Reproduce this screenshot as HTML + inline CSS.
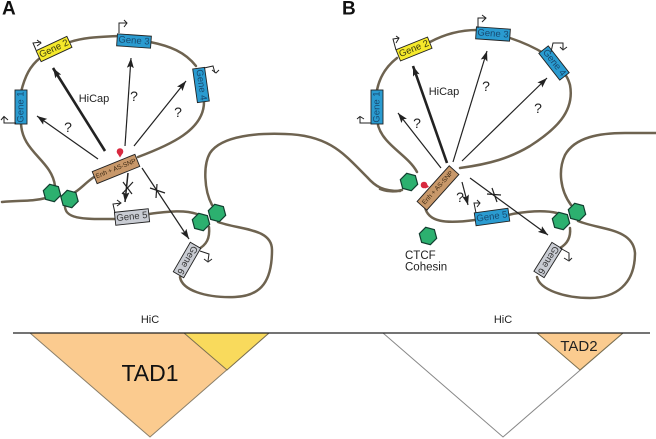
<!DOCTYPE html>
<html><head><meta charset="utf-8"><style>
html,body{margin:0;padding:0;background:#fff}
svg{display:block}
text{font-family:"Liberation Sans",sans-serif}
.c{fill:none;stroke:#6e6350;stroke-width:2.5;stroke-linecap:round}
.a{stroke:#222;stroke-width:1.2;fill:none;marker-end:url(#ah)}
.at{stroke:#222;stroke-width:2.6;fill:none;marker-end:url(#ahs)}
.p{fill:none;stroke:#222;stroke-width:1}
.x{fill:none;stroke:#222;stroke-width:1.2}
.q{font-size:14px;fill:#222;text-anchor:middle}
.g{font-size:9.5px;text-anchor:middle;dominant-baseline:central}
.b{stroke:#222;stroke-width:.9}
.h{fill:#2cb06f;stroke:#123f30;stroke-width:1.2}
</style></head><body>
<svg width="656" height="439" viewBox="0 0 656 439" xmlns="http://www.w3.org/2000/svg">
<defs>
<marker id="ah" markerUnits="userSpaceOnUse" markerWidth="11" markerHeight="8" refX="10" refY="4" orient="auto"><path d="M0,0.5L10,4L0,7.5L2,4Z" fill="#222"/></marker>
<marker id="ahs" markerUnits="userSpaceOnUse" markerWidth="11" markerHeight="8" refX="10" refY="4" orient="auto"><path d="M0,0.5L10,4L0,7.5L2,4Z" fill="#222"/></marker>
</defs>

<!-- Panel letters -->
<text x="2" y="14.500" font-size="19" font-weight="bold" fill="#111">A</text>
<text x="342" y="14.500" font-size="19" font-weight="bold" fill="#111">B</text>

<!-- Panel A curves -->
<path class="c" d="M2,202 C20,200 30,202 46,198"/>
<path class="c" d="M55,186 C52,160 21,152 21,122"/>
<path class="c" d="M21,92 C25,76 30,66 40,58"/>
<path class="c" d="M70,42 C85,37 100,37 118,36"/>
<path class="c" d="M150,42 C170,46 185,52 196,66"/>
<path class="c" d="M204,102 C204,130 170,145 138,157"/>
<path class="c" d="M94,177 C85,183 80,190 72,194"/>
<path class="c" d="M65,205 C64,220 85,219 116,219"/>
<path class="c" d="M149,214 C170,211 185,210 197,214"/>
<path class="c" d="M212,205 C204,190 203,165 210,153 C222,135 260,133 285,134 C330,135 345,155 367,177 C375,186 382,191 400,191"/>
<path class="c" d="M209,227 C210,238 207,245 197,250"/>
<path class="c" d="M180,277 C182,290 205,298 235,297 C262,296 272,280 272,250 C272,228 240,230 218,222"/>

<!-- Panel A boxes -->
<g transform="translate(21,107) rotate(-90)"><rect class="b" x="-17" y="-6" width="34" height="12" fill="#2a9bd0"/><text class="g" fill="#17496f">Gene 1</text></g>
<g transform="translate(54,49) rotate(-25)"><rect class="b" x="-17" y="-6" width="34" height="12" fill="#f5e92b"/><text class="g" fill="#3a3a10">Gene 2</text></g>
<g transform="translate(134,41) rotate(4)"><rect class="b" x="-17" y="-6" width="34" height="12" fill="#2a9bd0"/><text class="g" fill="#17496f">Gene 3</text></g>
<g transform="translate(201,85) rotate(82)"><rect class="b" x="-17" y="-6" width="34" height="12" fill="#2a9bd0"/><text class="g" fill="#17496f">Gene 4</text></g>
<g transform="translate(132,217) rotate(-6)"><rect class="b" x="-17" y="-6.500" width="34" height="13" fill="#c9ccd3"/><text class="g" fill="#333">Gene 5</text></g>
<g transform="translate(187,260) rotate(120)"><rect class="b" x="-17" y="-6" width="34" height="12" fill="#c9ccd3"/><text class="g" fill="#333">Gene 6</text></g>
<g transform="translate(116,169) rotate(-22)"><rect class="b" x="-23" y="-6.500" width="46" height="13" fill="#c8986a"/><text class="g" fill="#3d2a14" style="font-size:6.500px">Enh + AS-SNP</text></g>

<!-- Panel A promoters -->
<path class="p" d="M16,123H4V117M1,120L4,116.500L8,120"/>
<path class="p" d="M36,50L33,43L41,42M37,40L41,43L37,46"/>
<path class="p" d="M119,33V23H127M124,20L127,23L124,27"/>
<path class="p" d="M204,68L213,66L215,73M212,70L216,73L219,70"/>
<path class="p" d="M115,213L113,204L121,203M117,200L121,203L117,206"/>
<path class="p" d="M200,251L209,254L208,261M204,259L208,262L212,259"/>

<!-- Panel A arrows -->
<path class="a" d="M98,159L37,116"/>
<path class="at" d="M105,151L53,68"/>
<path class="a" d="M125,146L131,58"/>
<path class="a" d="M134,146L186,81"/>
<path class="at" style="stroke-width:1.5" d="M128,173L125,202"/>
<path class="a" d="M142,168L189,239"/>
<path class="x" d="M123,182L132,194M133,182L122,194"/>
<path class="x" d="M150,188L165,193M157,184L156,198"/>
<text class="q" x="68" y="132">?</text>
<text class="q" x="134" y="101">?</text>
<text class="q" x="178" y="117">?</text>
<text x="94" y="102" font-size="11" fill="#222" text-anchor="middle">HiCap</text>
<circle cx="120" cy="151.500" r="3.300" fill="#d8293f"/><path d="M117.500,153.500L120,157.500L122.500,153.500Z" fill="#d8293f"/>

<!-- Panel A hexagons -->
<polygon class="h" transform="translate(52,193)" points="8.690,2.330 2.330,8.690 -6.360,6.360 -8.690,-2.330 -2.330,-8.690 6.360,-6.360"/>
<polygon class="h" transform="translate(69.500,199)" points="8.690,2.330 2.330,8.690 -6.360,6.360 -8.690,-2.330 -2.330,-8.690 6.360,-6.360"/>
<polygon class="h" transform="translate(201,222)" points="8.690,2.330 2.330,8.690 -6.360,6.360 -8.690,-2.330 -2.330,-8.690 6.360,-6.360"/>
<polygon class="h" transform="translate(217,213)" points="8.690,2.330 2.330,8.690 -6.360,6.360 -8.690,-2.330 -2.330,-8.690 6.360,-6.360"/>

<!-- Panel B curves -->
<path class="c" d="M380,189 C388,192 395,192 402,190"/>
<path class="c" d="M378,125 C383,145 408,155 417,172"/>
<path class="c" d="M377,90 C380,75 388,65 397,58"/>
<path class="c" d="M430,42 C445,34 460,30 477,30"/>
<path class="c" d="M510,38 C522,42 532,46 545,54"/>
<path class="c" d="M460,168 C490,164 510,158 530,146 C555,130 575,112 570,85 C568,78 566,75 562,71"/>
<path class="c" d="M425,207 C428,222 445,224 475,220"/>
<path class="c" d="M508,215 C525,211 545,210 557,213"/>
<path class="c" d="M571,205 C560,190 558,170 565,155 C575,137 600,133 625,133 L656,133"/>
<path class="c" d="M570,228 C571,238 567,244 560,248"/>
<path class="c" d="M537,277 C540,290 565,298 590,298 C615,298 635,285 635,253 C633,228 600,230 578,221"/>

<!-- Panel B boxes -->
<g transform="translate(377,107) rotate(-90)"><rect class="b" x="-17" y="-6" width="34" height="12" fill="#2a9bd0"/><text class="g" fill="#17496f">Gene 1</text></g>
<g transform="translate(414,49) rotate(-22)"><rect class="b" x="-17" y="-6" width="34" height="12" fill="#f5e92b"/><text class="g" fill="#3a3a10">Gene 2</text></g>
<g transform="translate(493,34) rotate(4)"><rect class="b" x="-17" y="-6" width="34" height="12" fill="#2a9bd0"/><text class="g" fill="#17496f">Gene 3</text></g>
<g transform="translate(554,63) rotate(52)"><rect class="b" x="-17" y="-6" width="34" height="12" fill="#2a9bd0"/><text class="g" fill="#17496f">Gene 4</text></g>
<g transform="translate(492,217) rotate(-8)"><rect class="b" x="-17" y="-6.500" width="34" height="13" fill="#2a9bd0"/><text class="g" fill="#17496f">Gene 5</text></g>
<g transform="translate(548,260) rotate(122)"><rect class="b" x="-17" y="-6" width="34" height="12" fill="#c9ccd3"/><text class="g" fill="#333">Gene 6</text></g>
<g transform="translate(438,188) rotate(-48)"><rect class="b" x="-24" y="-6.500" width="48" height="13" fill="#c8986a"/><text class="g" fill="#3d2a14" style="font-size:6.500px">Enh + AS-SNP</text></g>

<!-- Panel B promoters -->
<path class="p" d="M371,123H360V117M357,119L360,116.500L364,119"/>
<path class="p" d="M396,50L393,39L399,38M396,36L399,38L396,43"/>
<path class="p" d="M478,28V18H486M482,15L486,18L482,22"/>
<path class="p" d="M551,52L553,43H563V49M560,47L563,50L567,47"/>
<path class="p" d="M476,213L474,203L480,203M477,200L480,203L477,207"/>
<path class="p" d="M560,248L569,253L569,260M564,258L569,261L572,258"/>

<!-- Panel B arrows -->
<path class="a" d="M441,168L398,113"/>
<path class="at" d="M447,163L413,66"/>
<path class="a" d="M453,162L487,51"/>
<path class="a" d="M462,161L547,78"/>
<path class="a" d="M462,182L468,205"/>
<path class="a" d="M470,178L548,235"/>
<path class="x" d="M487,194L501,195M492,188L497,202"/>
<text class="q" x="417" y="128">?</text>
<text class="q" x="486" y="91">?</text>
<text class="q" x="538" y="113">?</text>
<text class="q" x="460" y="202">?</text>
<text x="444" y="95" font-size="11" fill="#222" text-anchor="middle">HiCap</text>
<circle cx="424" cy="185" r="3.300" fill="#d8293f"/><path d="M425,181.800L429,187L425,188.500Z" fill="#d8293f"/>

<!-- Panel B hexagons -->
<polygon class="h" transform="translate(409,182)" points="8.690,2.330 2.330,8.690 -6.360,6.360 -8.690,-2.330 -2.330,-8.690 6.360,-6.360"/>
<polygon class="h" transform="translate(428,236)" points="8.690,2.330 2.330,8.690 -6.360,6.360 -8.690,-2.330 -2.330,-8.690 6.360,-6.360"/>
<polygon class="h" transform="translate(561,221)" points="8.690,2.330 2.330,8.690 -6.360,6.360 -8.690,-2.330 -2.330,-8.690 6.360,-6.360"/>
<polygon class="h" transform="translate(577,212)" points="8.690,2.330 2.330,8.690 -6.360,6.360 -8.690,-2.330 -2.330,-8.690 6.360,-6.360"/>
<text x="405" y="259" font-size="11.500" fill="#222">CTCF</text>
<text x="405" y="270.500" font-size="11.500" fill="#222">Cohesin</text>

<!-- TADs -->
<polygon points="30,333 150,437 269,333" fill="#fbcb8f" stroke="#8a7f6a" stroke-width="1"/>
<polygon points="184,333 227,370 269,333" fill="#f9da5c" stroke="#7a6f50" stroke-width="1"/>
<polygon points="383,333 503,437 623,333" fill="#fff" stroke="#888" stroke-width="1"/>
<polygon points="537,333 580,370 623,333" fill="#fbcb8f" stroke="#7a6f50" stroke-width="1"/>
<line x1="13" y1="333" x2="650" y2="333" stroke="#222" stroke-width="1.200"/>
<text x="150" y="323" font-size="11" fill="#222" text-anchor="middle">HiC</text>
<text x="503" y="323" font-size="11" fill="#222" text-anchor="middle">HiC</text>
<text x="150" y="381" font-size="23" fill="#111" text-anchor="middle">TAD1</text>
<text x="579" y="351" font-size="15" fill="#222" text-anchor="middle">TAD2</text>
</svg>
</body></html>
